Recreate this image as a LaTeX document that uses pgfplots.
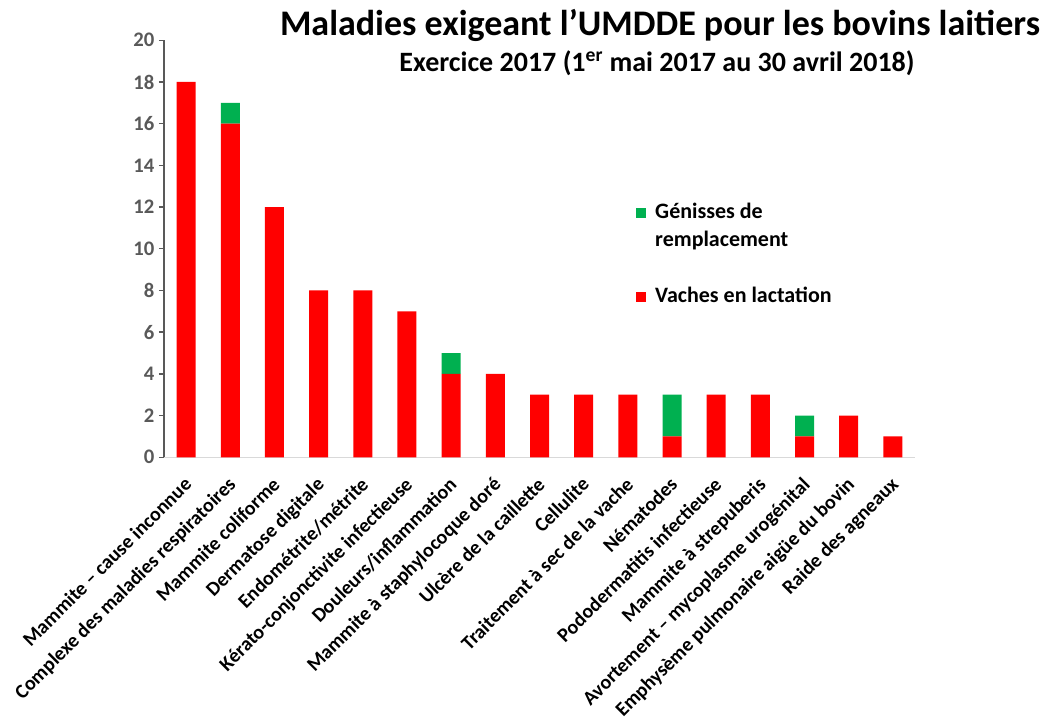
\documentclass[border=0pt]{standalone}
\usepackage{fontspec}
\setmainfont{Carlito}
\usepackage{pgfplots}
\pgfplotsset{compat=1.18}
\definecolor{vred}{HTML}{FF0000}
\definecolor{ggreen}{HTML}{00B050}
\definecolor{axgray}{HTML}{595959}
\definecolor{lgray}{HTML}{D9D9D9}
\begin{document}
\begin{tikzpicture}[x=1pt,y=1pt]
\path[use as bounding box] (0,0) rectangle (795.75,542.25);
\begin{axis}[
  at={(123pt,199.3pt)}, anchor=south west,
  scale only axis, width=563.25pt, height=312.75pt,
  ybar stacked, bar width=14.25pt,
  xmin=-0.5, xmax=16.5, ymin=0, ymax=20,
  xtick={0,...,16},
  xticklabels={Mammite – cause inconnue, Complexe des maladies respiratoires, Mammite coliforme, Dermatose digitale, Endométrite/métrite, Kérato-conjonctivite infectieuse, Douleurs/inflammation, Mammite à staphylocoque doré, Ulcère de la caillette, Cellulite, Traitement à sec de la vache, Nématodes, Pododermatitis infectieuse, Mammite à strepuberis, Avortement – mycoplasme urogénital, Emphysème pulmonaire aigüe du bovin, Raide des agneaux},
  x tick label style={xshift=-2.5pt, yshift=-10pt, rotate=45, anchor=north east, inner sep=0pt, font=\fontsize{15}{18}\selectfont\bfseries},
  ytick={0,2,...,20},
  y tick label style={font=\fontsize{15.5}{18}\selectfont\bfseries, text=axgray},
  /pgf/number format/assume math mode=true,
  axis x line*=bottom, axis y line*=left,
  x axis line style={draw=lgray, line width=1pt, -},
  y axis line style={draw=axgray, line width=1pt, -},
  tick align=outside, major tick length=3.75pt,
  xtick style={draw=none},
  ytick style={draw=axgray, line width=1pt},
  legend style={at={(rel axis cs:0.628,0.619)}, anchor=north west, draw=none, fill=none, inner sep=0pt,
    font=\fontsize{16.5}{21}\selectfont\bfseries, row sep=0pt, nodes={inner sep=0pt, text height=14pt, text depth=7pt}, column sep=7pt},
  legend cell align=left,
]
\addlegendimage{area legend, fill=ggreen, draw=none, legend image code/.code={\fill[ggreen] (0pt,-3.75pt) rectangle (7.5pt,3.75pt);}}
\addlegendentry{Génisses de}
\addlegendimage{empty legend}
\addlegendentry{remplacement}
\addlegendimage{empty legend}
\addlegendentry{}
\addlegendimage{area legend, fill=vred, draw=none, legend image code/.code={\fill[vred] (0pt,-3.75pt) rectangle (7.5pt,3.75pt);}}
\addlegendentry{Vaches en lactation}
\addplot[fill=vred, draw=none, forget plot] coordinates {(0,18) (1,16) (2,12) (3,8) (4,8) (5,7) (6,4) (7,4) (8,3) (9,3) (10,3) (11,1) (12,3) (13,3) (14,1) (15,2) (16,1)};
\addplot[fill=ggreen, draw=none, forget plot] coordinates {(0,0) (1,1) (2,0) (3,0) (4,0) (5,0) (6,1) (7,0) (8,0) (9,0) (10,0) (11,2) (12,0) (13,0) (14,1) (15,0) (16,0)};
\end{axis}
\node[font=\fontsize{27}{32}\selectfont\bfseries] at (495,523.5) {Maladies exigeant l’UMDDE pour les bovins laitiers};
\node[font=\fontsize{21}{25}\selectfont\bfseries] at (492.75,494.5) {Exercice 2017 (1\textsuperscript{er} mai 2017 au 30 avril 2018)};
\end{tikzpicture}
\end{document}
